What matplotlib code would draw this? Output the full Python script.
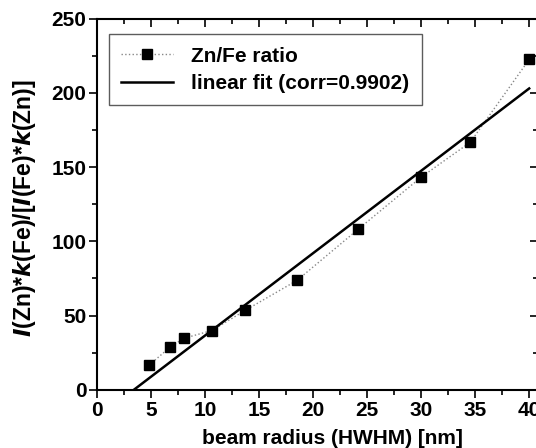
import numpy as np
import matplotlib.pyplot as plt

plt.rcParams['font.family'] = 'Liberation Sans'
plt.rcParams['font.weight'] = 'bold'

# Zn/Fe ratio vs beam radius
radius = [4.8, 6.75, 8.0, 10.6, 13.7, 18.5, 24.15, 30.0, 34.55, 40.0]
ratio = [16.6, 28.8, 34.6, 39.9, 53.5, 73.7, 108.1, 143.3, 166.8, 222.6]

# linear fit as drawn
fit_slope = 5.546
fit_intercept = -18.8
fit_range = [0, 40]

fig = plt.figure(figsize=(5.36, 4.48), dpi=100)
ax = fig.add_axes([97.4 / 536, 58.3 / 448, 440.4 / 536, 370.9 / 448])

ax.plot(radius, ratio, linestyle=':', color='#888888', linewidth=1.0,
        marker='s', markersize=7, markerfacecolor='black',
        markeredgecolor='black', label='Zn/Fe ratio')
fx = np.array(fit_range)
ax.plot(fx, fit_slope * fx + fit_intercept, color='black', linewidth=1.8,
        label='linear fit (corr=0.9902)')

ax.set_xlim(0, 40.8)
ax.set_ylim(0, 250)
ax.set_xticks(np.arange(0, 41, 5))
ax.set_xticks(np.arange(0, 41, 2.5), minor=True)
ax.set_yticks(np.arange(0, 251, 50))
ax.set_yticks(np.arange(0, 251, 25), minor=True)

ax.tick_params(which='both', direction='out', labelsize=15, width=1.2)
ax.tick_params(which='major', length=6, pad=2)
ax.tick_params(which='minor', length=3.5)
ax.tick_params(which='both', top=True, right=True)
for spine in ax.spines.values():
    spine.set_linewidth(1.5)
# top/right ticks point inward
for t in ax.xaxis.get_ticklines(minor=False)[1::2] + ax.xaxis.get_ticklines(minor=True)[1::2]:
    t.set_marker(3)
for t in ax.yaxis.get_ticklines(minor=False)[1::2] + ax.yaxis.get_ticklines(minor=True)[1::2]:
    t.set_marker(0)
for lab in ax.get_xticklabels() + ax.get_yticklabels():
    lab.set_fontweight('bold')

ax.set_xlabel('beam radius (HWHM) [nm]', fontsize=15, fontweight='bold')
ax.xaxis.set_label_coords((332 - 97.4) / 440.4, -0.105)
ax.set_ylabel(r'$\mathbfit{I}$(Zn)*$\mathbfit{k}$(Fe)/[$\mathbfit{I}$(Fe)*$\mathbfit{k}$(Zn)]',
              fontsize=16.5, fontweight='bold')
ax.yaxis.set_label_coords(-0.135, 0.49)

leg = ax.legend(loc='upper left', bbox_to_anchor=(0.026, 0.959), fontsize=15,
                frameon=True, fancybox=False, edgecolor='#333333',
                handlelength=2.5, borderpad=0.6, labelspacing=0.4,
                handletextpad=0.85, borderaxespad=0)
leg.get_frame().set_linewidth(1.0)
for txt in leg.get_texts():
    txt.set_fontweight('bold')

fig.savefig('out.png', dpi=100)
